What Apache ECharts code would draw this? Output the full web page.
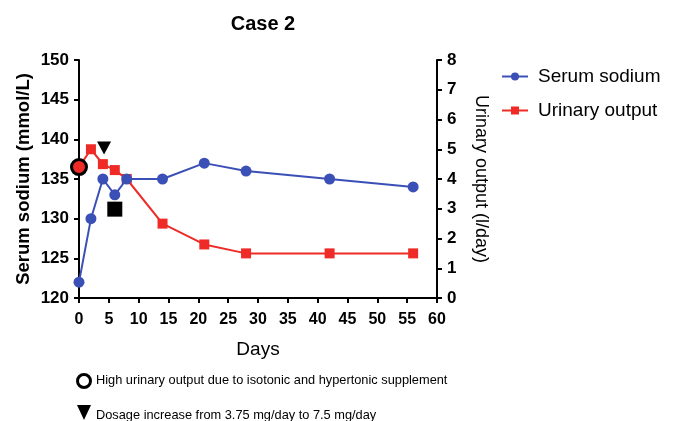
<!DOCTYPE html>
<html><head><meta charset="utf-8">
<script src="https://cdn.jsdelivr.net/npm/echarts@6/dist/echarts.min.js"></script>
<style>html,body{margin:0;padding:0;background:#fff}#c{width:676px;height:421px}</style>
</head><body><div id="c"></div>
<script>
var days = [0, 2, 4, 6, 8, 14, 21, 28, 42, 56];
var serumSodium = [122, 130, 135, 133, 135, 135, 137, 136, 135, 134];
var urinaryOutput = [4.4, 5.0, 4.5, 4.3, 4.0, 2.5, 1.8, 1.5, 1.5, 1.5];
var triangleMark = [[4.2, 138.9]];
var squareMark = [[6.0, 131.2]];
var xTicks = [0, 60, 5];
var leftTicks = [120, 150, 5];
var rightTicks = [0, 8, 1];
var notes = ['High urinary output due to isotonic and hypertonic supplement', 'Dosage increase from 3.75 mg/day to 7.5 mg/day'];

var BLUE = '#3a50b6', RED = '#ee2b27';
var FF = '"Liberation Sans", Arial, sans-serif';
var chart = echarts.init(document.getElementById('c'));

var sodiumData = days.map(function (d, i) { return [d, serumSodium[i]]; });
var urineData = days.map(function (d, i) {
  if (i === 0) return { value: [d, urinaryOutput[i]], symbol: 'circle', symbolSize: 15, itemStyle: { color: RED, borderColor: '#000', borderWidth: 3 } };
  return [d, urinaryOutput[i]];
});

var axisCommon = {
  axisLine: { show: true, lineStyle: { color: '#000', width: 2 } },
  axisTick: { show: true, length: 5, lineStyle: { color: '#000', width: 2 } },
  splitLine: { show: false },
  axisLabel: { color: '#000', fontFamily: FF, fontWeight: 'bold', fontSize: 17 }
};

chart.setOption({
  animation: false,
  title: { text: 'Case 2', left: 258, top: 9, textAlign: 'center',
    textStyle: { fontFamily: FF, fontWeight: 'bold', fontSize: 20, color: '#000' } },
  grid: { left: 79, right: 239, top: 60, bottom: 123 },
  legend: {
    orient: 'vertical', left: 496, top: 62, itemGap: 15, itemWidth: 26, itemHeight: 10,
    data: ['Serum sodium', 'Urinary output'],
    textStyle: { fontFamily: FF, fontSize: 19, color: '#000', padding: [0, 0, 0, 5] }
  },
  xAxis: Object.assign({}, axisCommon, {
    type: 'value', min: xTicks[0], max: xTicks[1], interval: xTicks[2],
    name: 'Days', nameLocation: 'middle', nameGap: 42,
    nameTextStyle: { fontFamily: FF, fontSize: 19, color: '#000' },
    axisLabel: Object.assign({}, axisCommon.axisLabel, { margin: 14, fontSize: 16 })
  }),
  yAxis: [
    Object.assign({}, axisCommon, {
      type: 'value', min: leftTicks[0], max: leftTicks[1], interval: leftTicks[2],
      name: 'Serum sodium (mmol/L)', nameLocation: 'middle', nameGap: 46, nameRotate: 90, nameMoveOverlap: false,
      nameTextStyle: { fontFamily: FF, fontSize: 18.5, fontWeight: 'bold', color: '#000' },
      axisLabel: Object.assign({}, axisCommon.axisLabel, { margin: 10 })
    }),
    Object.assign({}, axisCommon, {
      type: 'value', position: 'right', min: rightTicks[0], max: rightTicks[1], interval: rightTicks[2],
      name: 'Urinary output (l/day)', nameLocation: 'middle', nameGap: 35, nameRotate: -90,
      nameTextStyle: { fontFamily: FF, fontSize: 18, color: '#000' },
      axisLabel: Object.assign({}, axisCommon.axisLabel, { margin: 10 })
    })
  ],
  series: [
    { name: 'Serum sodium', type: 'line', yAxisIndex: 0, data: sodiumData,
      symbol: 'circle', symbolSize: 11, color: BLUE, lineStyle: { width: 2, color: BLUE }, itemStyle: { color: BLUE }, z: 3 },
    { name: 'Urinary output', type: 'line', yAxisIndex: 1, data: urineData,
      symbol: 'rect', symbolSize: 10, color: RED, lineStyle: { width: 2, color: RED }, itemStyle: { color: RED }, z: 2 },
    { name: 'triangle', type: 'scatter', yAxisIndex: 0, data: triangleMark,
      symbol: 'triangle', symbolRotate: 180, symbolSize: [14, 13], itemStyle: { color: '#000', opacity: 1 }, z: 4 },
    { name: 'square', type: 'scatter', yAxisIndex: 0, data: squareMark,
      symbol: 'rect', symbolSize: 15, itemStyle: { color: '#000', opacity: 1 }, z: 4 }
  ],
  graphic: [
    { type: 'circle', shape: { cx: 84, cy: 381, r: 6.5 }, style: { fill: 'none', stroke: '#000', lineWidth: 3 } },
    { type: 'text', left: 96, top: 374, style: { text: notes[0], font: '12.8px ' + FF, fill: '#000' } },
    { type: 'polygon', shape: { points: [[77, 405], [91, 405], [84, 420]] }, style: { fill: '#000' } },
    { type: 'text', left: 96, top: 409, style: { text: notes[1], font: '12.8px ' + FF, fill: '#000' } }
  ]
});
</script></body></html>
